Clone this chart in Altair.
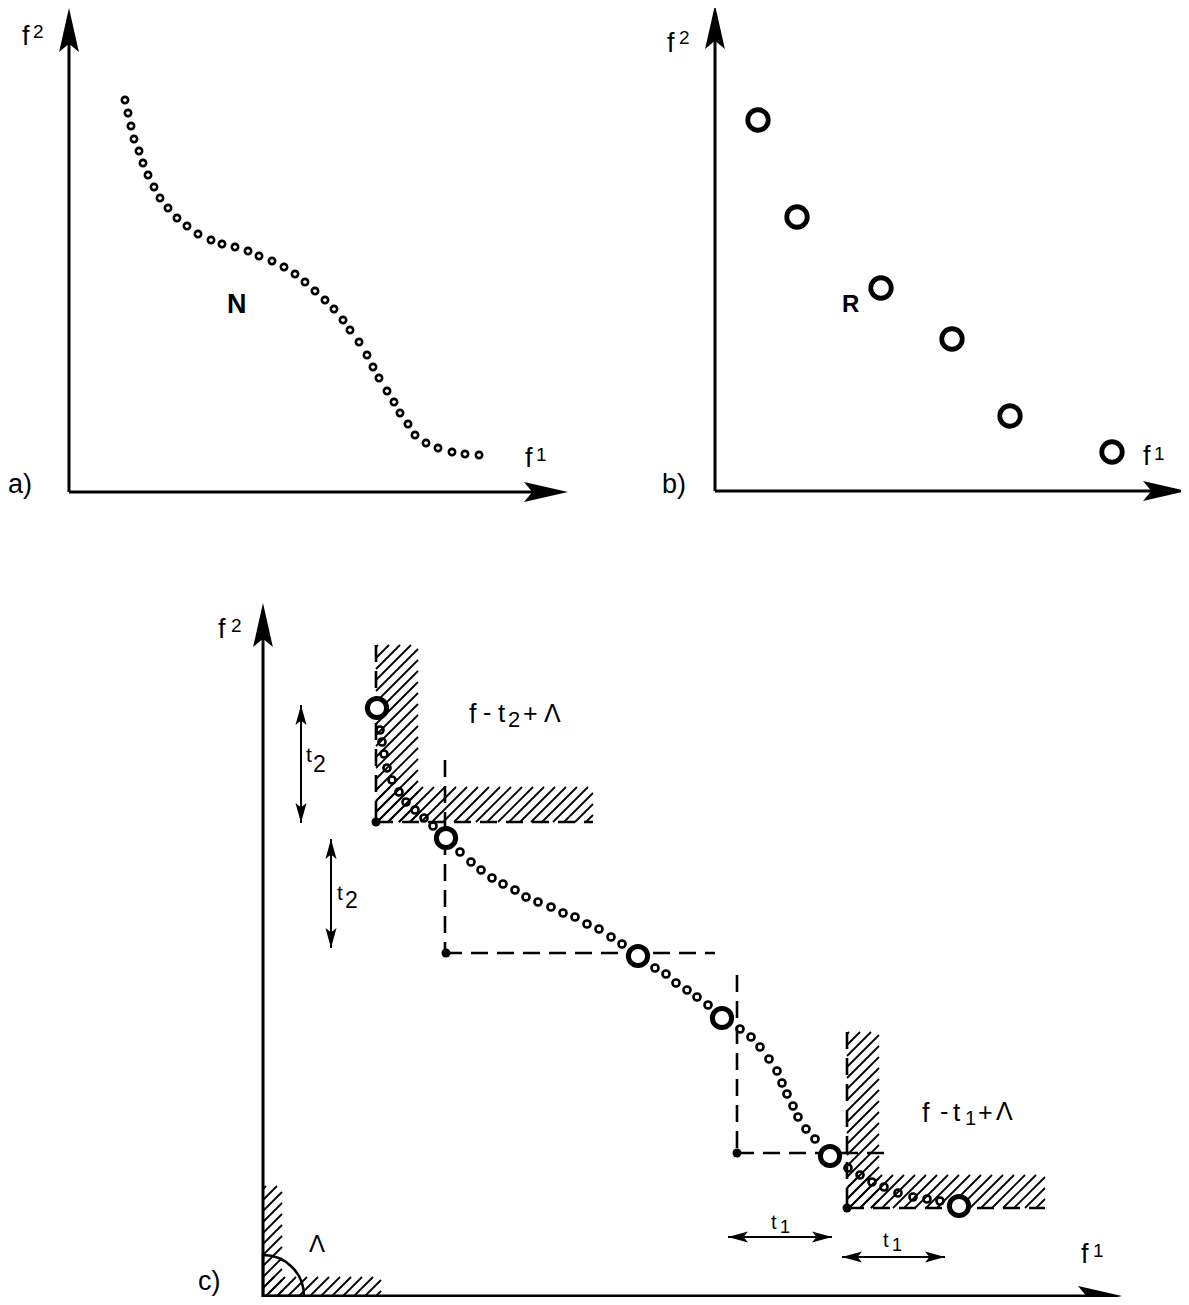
import math
import altair as alt
import pandas as pd

# ---------------- data (page pixel coordinates) ----------------
# panel a: the efficient set N, drawn as a chain of small circles
a_n_x = [125, 128, 131, 134, 139, 143, 148, 154, 160, 168, 177, 187, 198, 211, 222, 235,
         248, 259, 272, 284, 295, 305, 315, 325, 334, 343, 350, 359, 367, 373, 379, 387,
         394, 400, 408, 415, 426, 438, 452, 465, 479]
a_n_y = [100, 113, 126, 139, 151, 163, 175, 187, 198, 208, 218, 226, 234, 240, 244, 247,
         251, 256, 261, 267, 274, 282, 291, 300, 309, 320, 330, 342, 355, 367, 378, 391,
         402, 413, 424, 435, 443, 448, 452, 454, 455]

# panel b: the representation R
b_r_x = [758, 797, 881, 952, 1010, 1112]
b_r_y = [120, 217, 288, 339, 416, 452]

# panel c: N again (small circles) and R (large circles)
c_n_x = [380, 382, 384, 387, 392, 399, 406, 415, 424, 433,
         460, 471, 481, 492, 503, 515, 526, 538, 551, 563, 575, 587, 599, 611, 622,
         655, 666, 676, 687, 697, 708,
         740, 751, 760, 769, 777, 782, 787, 793, 798, 806, 815,
         848, 860, 872, 884, 898, 913, 927, 940]
c_n_y = [730, 742, 754, 768, 780, 792, 802, 810, 818, 826,
         852, 862, 870, 878, 884, 890, 897, 902, 907, 913, 917, 924, 929, 937, 944,
         968, 974, 983, 990, 997, 1005,
         1029, 1037, 1047, 1059, 1071, 1083, 1094, 1106, 1117, 1129, 1139,
         1168, 1175, 1182, 1187, 1193, 1197, 1199, 1201]
c_r_x = [377, 446, 638, 722, 830, 959]
c_r_y = [708, 838, 956, 1018, 1156, 1206]
c_corner_x = [376, 446, 737, 847]
c_corner_y = [822, 953, 1153, 1208]

# axes: start -> tip
axis_start_x = [69, 69, 715, 715, 263, 263]
axis_start_y = [492, 492, 491, 491, 1297, 1296]
axis_tip_x = [69, 568, 715, 1187, 263, 1122]
axis_tip_y = [8, 492, 5, 491, 603, 1296]

# double-headed t arrows
t_from_x = [301, 331, 728, 842]
t_from_y = [705, 839, 1237, 1257]
t_to_x = [301, 331, 832, 945]
t_to_y = [823, 948, 1237, 1257]

# dashed lines
dash_x = [376, 376, 445, 445, 737, 737, 847, 847]
dash_y = [645, 822, 760, 953, 975, 1153, 1032, 1208]
dash_x2 = [376, 593, 445, 715, 737, 893, 847, 1045]
dash_y2 = [822, 822, 953, 953, 1153, 1153, 1208, 1208]

# hatched rectangles (x0, x1, y0, y1)
hatch_x0 = [376, 376, 847, 847, 263, 263]
hatch_x1 = [418, 593, 879, 1045, 282, 381]
hatch_y0 = [645, 787, 1032, 1175, 1186, 1277]
hatch_y1 = [822, 822, 1208, 1208, 1296, 1296]

# cone angle arc at origin of panel c
arc_x = [263]
arc_y = [1296]

# text labels: text, left x, baseline y, size
lab_text = ["f", "2", "f", "1", "a)",
            "f", "2", "f", "1", "b)",
            "f", "2", "f", "1", "c)", "Λ",
            "f", "-", "t", "2", "+", "Λ",
            "f", "-", "t", "1", "+", "Λ",
            "t", "2", "t", "2", "t", "1", "t", "1"]
lab_x = [22, 33, 525, 536, 8,
         667, 679, 1143, 1154, 662,
         218, 231, 1081, 1093, 198, 309,
         469, 483, 498, 508, 523, 544,
         922, 940, 953, 965, 978, 996,
         306, 313, 337, 345, 771, 780, 883, 892]
lab_y = [45, 38, 467, 461, 493,
         52, 44, 465, 460, 493,
         638, 632, 1263, 1257, 1290, 1252,
         723, 721, 722, 727, 722, 722,
         1122, 1120, 1121, 1125, 1121, 1120,
         762, 772, 900, 908, 1229, 1233, 1247, 1251]
lab_size = [27, 19, 27, 19, 27,
            27, 19, 27, 19, 27,
            27, 19, 27, 19, 27, 24,
            27, 25, 26, 22, 25, 25,
            27, 25, 26, 20, 25, 25,
            21, 23, 21, 23, 20, 18, 20, 18]
bold_text = ["N", "R"]
bold_x = [227, 842]
bold_y = [313, 312]
bold_size = [27, 24]

# ---------------- derived tables ----------------
XS = alt.Scale(domain=[8, 1181], nice=False, zero=False)
YS = alt.Scale(domain=[8, 1297], nice=False, zero=False, reverse=True)


def xy(xf="x", yf="y"):
    return dict(x=alt.X(f"{xf}:Q", scale=XS, axis=None),
                y=alt.Y(f"{yf}:Q", scale=YS, axis=None))


def head(tx, ty, fx, fy, length):
    dx, dy = tx - fx, ty - fy
    n = math.hypot(dx, dy)
    ux, uy = dx / n, dy / n
    ang = (math.degrees(math.atan2(dx, -dy)) + 360) % 360
    return (tx - ux * length / 2, ty - uy * length / 2, ang, length * length)


AX_HEAD = 44
T_HEAD = 20
axis_lines, axis_heads = [], []
for x0, y0, x1, y1 in zip(axis_start_x, axis_start_y, axis_tip_x, axis_tip_y):
    hx, hy, ang, sz = head(x1, y1, x0, y0, AX_HEAD)
    axis_lines.append((x0, y0, hx, hy))
    axis_heads.append((hx, hy, ang, sz))

t_lines, t_heads = [], []
for x0, y0, x1, y1 in zip(t_from_x, t_from_y, t_to_x, t_to_y):
    t_lines.append((x0, y0, x1, y1))
    t_heads.append(head(x1, y1, x0, y0, T_HEAD))
    t_heads.append(head(x0, y0, x1, y1, T_HEAD))

GAP = 11
hatch = []
for x0, x1, y0, y1 in zip(hatch_x0, hatch_x1, hatch_y0, hatch_y1):
    c = math.ceil((x0 + y0) / GAP) * GAP
    while c <= x1 + y1:
        xa, xb = max(x0, c - y1), min(x1, c - y0)
        if xb - xa > 0.5:
            hatch.append((xa, c - xa, xb, c - xb))
        c += GAP

seg_cols = ["x", "y", "x2", "y2"]
df_axis = pd.DataFrame(axis_lines, columns=seg_cols)
df_t = pd.DataFrame(t_lines, columns=seg_cols)
df_hatch = pd.DataFrame(hatch, columns=seg_cols)
df_dash = pd.DataFrame({"x": dash_x, "y": dash_y, "x2": dash_x2, "y2": dash_y2})
df_axhead = pd.DataFrame(axis_heads, columns=["x", "y", "angle", "size"])
df_thead = pd.DataFrame(t_heads, columns=["x", "y", "angle", "size"])
df_an = pd.DataFrame({"x": a_n_x, "y": a_n_y})
df_br = pd.DataFrame({"x": b_r_x, "y": b_r_y})
df_cn = pd.DataFrame({"x": c_n_x, "y": c_n_y})
df_cr = pd.DataFrame({"x": c_r_x, "y": c_r_y})
df_corner = pd.DataFrame({"x": c_corner_x, "y": c_corner_y})
df_arc = pd.DataFrame({"x": arc_x, "y": arc_y})
df_lab = pd.DataFrame({"t": lab_text, "x": lab_x, "y": lab_y, "s": lab_size})
df_bold = pd.DataFrame({"t": bold_text, "x": bold_x, "y": bold_y, "s": bold_size})

DART_AX = "M0,-1L0.45,1L0,0.62L-0.45,1Z"
DART_T = "M0,-1L0.55,1L0,0.55L-0.55,1Z"
FONT = "Liberation Sans"


def rules(df, **mk):
    return alt.Chart(df).mark_rule(color="black", **mk).encode(
        **xy(), x2="x2:Q", y2="y2:Q")


hatch_l = rules(df_hatch, strokeWidth=1.8)
dash_l = rules(df_dash, strokeWidth=2.6, strokeDash=[17, 9])
axis_l = rules(df_axis, strokeWidth=3)
t_l = rules(df_t, strokeWidth=2)

axhead_l = alt.Chart(df_axhead).mark_point(
    shape=DART_AX, filled=True, color="black", opacity=1, strokeWidth=0).encode(
    **xy(), angle=alt.Angle("angle:Q", scale=None), size=alt.Size("size:Q", scale=None))
thead_l = alt.Chart(df_thead).mark_point(
    shape=DART_T, filled=True, color="black", opacity=1, strokeWidth=0).encode(
    **xy(), angle=alt.Angle("angle:Q", scale=None), size=alt.Size("size:Q", scale=None))

arc_l = alt.Chart(df_arc).mark_arc(
    radius=41, theta=0, theta2=math.pi / 2, filled=False, stroke="black",
    strokeWidth=2.5).encode(**xy())

an_l = alt.Chart(df_an).mark_point(
    shape="circle", size=40, filled=False, color="black", strokeWidth=2.6, opacity=1
).encode(**xy())
cn_l = alt.Chart(df_cn).mark_point(
    shape="circle", size=50, filled=False, color="black", strokeWidth=2.6, opacity=1
).encode(**xy())
br_l = alt.Chart(df_br).mark_point(
    shape="circle", size=420, filled=True, fill="white", stroke="black",
    strokeWidth=4.8, opacity=1).encode(**xy())
cr_l = alt.Chart(df_cr).mark_point(
    shape="circle", size=370, filled=True, fill="white", stroke="black",
    strokeWidth=5, opacity=1).encode(**xy())
corner_l = alt.Chart(df_corner).mark_circle(
    size=81, color="black", opacity=1).encode(**xy())

text_l = alt.Chart(df_lab).mark_text(
    align="left", baseline="alphabetic", font=FONT, color="black").encode(
    **xy(), text="t:N", size=alt.Size("s:Q", scale=None))
bold_l = alt.Chart(df_bold).mark_text(
    align="left", baseline="alphabetic", font=FONT, fontWeight="bold", color="black").encode(
    **xy(), text="t:N", size=alt.Size("s:Q", scale=None))

chart = alt.layer(
    hatch_l, dash_l, axis_l, t_l, axhead_l, thead_l, arc_l,
    an_l, cn_l, br_l, cr_l, corner_l, text_l, bold_l
).properties(
    width=1173, height=1289, padding=0, autosize=alt.AutoSizeParams(type="none"),
    background="white"
).configure_view(stroke=None)

chart.save("out.html", embed_options={"renderer": "svg", "actions": False})
